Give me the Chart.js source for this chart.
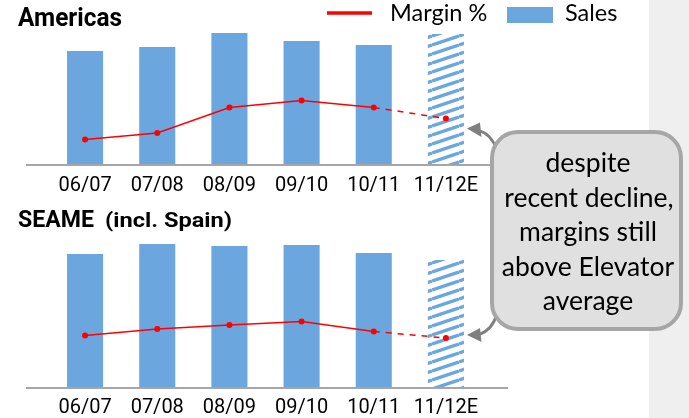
<!DOCTYPE html>
<html>
<head>
<meta charset="utf-8">
<script src="https://cdn.jsdelivr.net/npm/chart.js@4/dist/chart.umd.min.js"></script>
<style>
  html, body { margin: 0; padding: 0; background: #ffffff; }
  #stage { position: relative; width: 689px; height: 418px; overflow: hidden; background: #ffffff; }
  #strip { position: absolute; left: 649px; top: 0; width: 40px; height: 418px; background: #efefef; }
  canvas { position: absolute; left: 0; }
  #top { top: 0; }
  #bottom { top: 200px; }
  #overlay { position: absolute; left: 0; top: 0; }
</style>
</head>
<body>
<div id="stage">
  <div id="strip"></div>
  <canvas id="top" width="520" height="200"></canvas>
  <canvas id="bottom" width="520" height="218"></canvas>
  <svg id="overlay" width="689" height="418" xmlns="http://www.w3.org/2000/svg">
    <!-- region titles -->
    <text x="18" y="26" font-family="Roboto, 'Liberation Sans', sans-serif" font-weight="700" font-size="25" textLength="104" lengthAdjust="spacingAndGlyphs" fill="#000">Americas</text>
    <text x="18" y="227" font-family="Roboto, 'Liberation Sans', sans-serif" font-weight="700" font-size="23" textLength="76" lengthAdjust="spacingAndGlyphs" fill="#000">SEAME</text>
    <text x="105" y="227" font-family="Roboto, 'Liberation Sans', sans-serif" font-weight="700" font-size="20" textLength="127" lengthAdjust="spacingAndGlyphs" fill="#000">(incl. Spain)</text>

    <!-- legend -->
    <line x1="327" y1="13" x2="372" y2="13" stroke="#ff0000" stroke-width="3.5"/>
    <text x="390" y="21" font-family="Lato, 'Open Sans', sans-serif" font-size="23.5" fill="#000">Margin %</text>
    <rect x="507" y="7" width="46" height="16" fill="#6ca6de"/>
    <text x="565" y="21" font-family="Lato, 'Open Sans', sans-serif" font-size="23.5" fill="#000">Sales</text>

    <!-- callout arrows -->
    <path d="M 480 131 Q 491 134 497 150" fill="none" stroke="#7f7f7f" stroke-width="2.8"/>
    <polygon points="467,128.5 480,122.5 481.5,137" fill="#7f7f7f"/>
    <path d="M 480 334 Q 492 330 497 314" fill="none" stroke="#7f7f7f" stroke-width="2.8"/>
    <polygon points="467,335 480,328 481.5,342" fill="#7f7f7f"/>

    <!-- callout box -->
    <rect x="492" y="132" width="189" height="197" rx="26" ry="26" fill="#e0e0e0" stroke="#a6a6a6" stroke-width="4"/>
    <g font-family="Lato, 'Open Sans', sans-serif" font-size="26.5" fill="#000" text-anchor="middle">
      <text x="588" y="172">despite</text>
      <text x="589" y="206.5">recent decline,</text>
      <text x="588" y="241">margins still</text>
      <text x="588" y="275.5">above Elevator</text>
      <text x="588" y="310">average</text>
    </g>
  </svg>
</div>
<script>
// Fiscal years (11/12 is an estimate)
const periods = ['06/07', '07/08', '08/09', '09/10', '10/11', '11/12E'];

// Americas
const americasSales = [1140, 1180, 1320, 1240, 1200, 1310];
const americasMargin = [5.1, 6.4, 11.5, 12.9, 11.5, 9.3];

// SEAME (incl. Spain)
const seameSales = [1340, 1440, 1420, 1430, 1350, 1280];
const seameMargin = [10.5, 11.8, 12.6, 13.3, 11.3, 10.0];

// Axis ranges shared by both panels
const SALES_MAX = 1500;
const MARGIN_MAX = 30;

const BAR_BLUE = '#6ca6de';
const LINE_RED = '#ff0000';
const ESTIMATE_INDEX = periods.length - 1;

// Diagonal stripes used for the estimated year
function stripePattern(color) {
  const c = document.createElement('canvas');
  c.width = 27; c.height = 9;
  const g = c.getContext('2d');
  g.fillStyle = '#ffffff';
  g.fillRect(0, 0, 27, 9);
  g.strokeStyle = color;
  g.lineWidth = 3.4;
  for (let k = -2; k <= 2; k++) {
    g.beginPath();
    g.moveTo(0, 9 + k * 9);
    g.lineTo(27, k * 9);
    g.stroke();
  }
  return g.createPattern(c, 'repeat');
}

// Grey baseline that runs a little past the plot on both sides
const baselinePlugin = {
  id: 'baseline',
  afterDatasetsDraw(chart) {
    const { ctx, chartArea } = chart;
    const y = chart.scales.y.getPixelForValue(0);
    ctx.save();
    ctx.strokeStyle = '#a6a6a6';
    ctx.lineWidth = 2;
    ctx.beginPath();
    ctx.moveTo(chartArea.left - 23, y);
    ctx.lineTo(chartArea.right + 26, y);
    ctx.stroke();
    ctx.restore();
  }
};

function makePanel(canvasId, sales, margin, pad, axisHeight, tickPad) {
  const hatch = stripePattern(BAR_BLUE);
  const barColors = sales.map((_, i) => i === ESTIMATE_INDEX ? hatch : BAR_BLUE);
  return new Chart(document.getElementById(canvasId), {
    type: 'bar',
    data: {
      labels: periods,
      datasets: [
        {
          type: 'line',
          label: 'Margin %',
          data: margin,
          yAxisID: 'y1',
          order: 0,
          borderColor: LINE_RED,
          backgroundColor: LINE_RED,
          borderWidth: 1.5,
          pointRadius: 3,
          pointBorderWidth: 0,
          pointBackgroundColor: LINE_RED,
          tension: 0,
          segment: {
            borderDash: ctx => ctx.p1DataIndex === ESTIMATE_INDEX ? [6, 6] : undefined
          }
        },
        {
          type: 'bar',
          label: 'Sales',
          data: sales,
          yAxisID: 'y',
          order: 1,
          backgroundColor: barColors,
          borderWidth: 0,
          categoryPercentage: 1.0,
          barPercentage: 0.5
        }
      ]
    },
    options: {
      responsive: false,
      animation: false,
      devicePixelRatio: 1,
      layout: { padding: pad },
      plugins: {
        legend: { display: false },
        tooltip: { enabled: false },
        title: { display: false }
      },
      scales: {
        x: {
          grid: { display: false, drawTicks: false },
          border: { display: false },
          ticks: {
            color: '#000000',
            padding: tickPad,
            maxRotation: 0,
            autoSkip: false,
            font: { family: "Roboto, 'Liberation Sans', sans-serif", size: 20 }
          },
          afterFit(scale) { scale.height = axisHeight; }
        },
        y: {
          display: false,
          min: 0,
          max: SALES_MAX
        },
        y1: {
          display: false,
          position: 'right',
          min: 0,
          max: MARGIN_MAX
        }
      }
    },
    plugins: [baselinePlugin]
  });
}

makePanel('top', americasSales, americasMargin, { top: 15, left: 49, right: 38, bottom: 0 }, 35, 9);
makePanel('bottom', seameSales, seameMargin, { top: 38, left: 49, right: 38, bottom: 0 }, 30, 8);
</script>
</body>
</html>
